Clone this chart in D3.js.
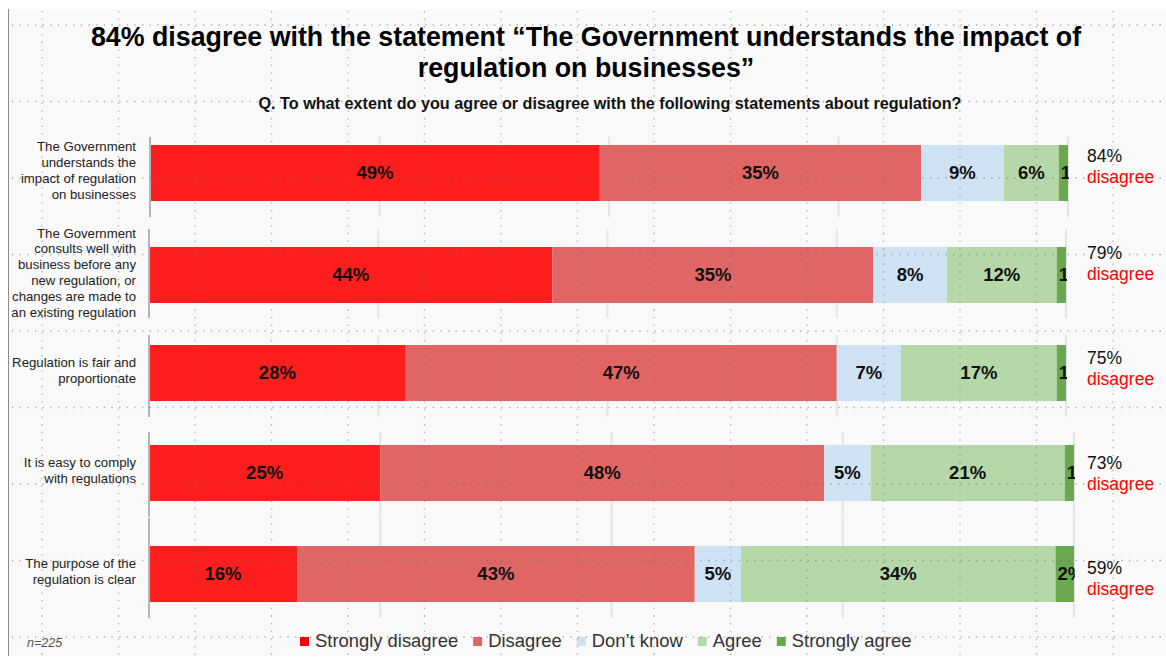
<!DOCTYPE html>
<html>
<head>
<meta charset="utf-8">
<script src="https://cdn.jsdelivr.net/npm/d3@7"></script>
<style>
  body { margin: 0; background: #fff; }
  svg { display: block; font-family: "Liberation Sans", Arial, sans-serif; }
</style>
</head>
<body>
<div id="chart"></div>
<script>

// Data
var categories = [
	["The Government", "understands the", "impact of regulation", "on businesses"],
	["The Government", "consults well with", "business before any", "new regulation, or", "changes are made to", "an existing regulation"],
	["Regulation is fair and", "proportionate"],
	["It is easy to comply", "with regulations"],
	["The purpose of the", "regulation is clear"]
];
var seriesNames = ["Strongly disagree", "Disagree", "Don\u2019t know", "Agree", "Strongly agree"];
var stronglyDisagree = [49, 44, 28, 25, 16];
var disagree = [35, 35, 47, 48, 43];
var dontKnow = [9, 8, 7, 5, 5];
var agree = [6, 12, 17, 21, 34];
var stronglyAgree = [1, 1, 1, 1, 2];
var totalDisagree = [84, 79, 75, 73, 59];
var gridTicks = [25, 50, 75, 100];

var colors = ["#fe1e1e", "#e06666", "#cfe2f3", "#b6d7a8", "#6aa84f"];
var legendColors = ["#ff0000", "#e06666", "#cfe2f3", "#b6d7a8", "#6aa84f"];

// Main svg window sizes
var width = 1166;
var height = 661;

// each row was its own little chart, so each has its own frame
var rowLayout = [
	{top: 137, bottom: 217, barTop: 145, left: 150, right: 1068, noteY: 162},
	{top: 229, bottom: 318, barTop: 247, left: 149, right: 1066, noteY: 259},
	{top: 335, bottom: 417, barTop: 345, left: 149, right: 1066, noteY: 364},
	{top: 432, bottom: 517, barTop: 445, left: 149, right: 1074, noteY: 469},
	{top: 518, bottom: 618, barTop: 546, left: 149, right: 1074, noteY: 574}
];
var barHeight = 56;

var table = categories.map(function(c, i) {
	return {
		"Strongly disagree": stronglyDisagree[i],
		"Disagree": disagree[i],
		"Don\u2019t know": dontKnow[i],
		"Agree": agree[i],
		"Strongly agree": stronglyAgree[i]
	};
});

var stack = d3.stack().keys(seriesNames);
var stacked = stack(table);

var svg = d3.select("#chart")
	.append("svg")
	.attr("width", width)
	.attr("height", height);

// Panel background
svg.append("rect")
	.attr("x", 8).attr("y", 9)
	.attr("width", width - 8).attr("height", 647)
	.attr("fill", "#f9f9f9");
svg.append("line")
	.attr("x1", 8.5).attr("x2", 8.5)
	.attr("y1", 9).attr("y2", 656)
	.attr("stroke", "#8a8a8a")
	.attr("stroke-width", 1);

// Titles
var title = svg.append("text")
	.attr("text-anchor", "middle")
	.style("font-weight", "bold")
	.style("font-size", "26.8px")
	.attr("fill", "#000");
title.append("tspan").attr("x", 586).attr("y", 46)
	.text("84% disagree with the statement \u201cThe Government understands the impact of");
title.append("tspan").attr("x", 586).attr("y", 77)
	.text("regulation on businesses\u201d");

svg.append("text")
	.attr("x", 610).attr("y", 109)
	.attr("text-anchor", "middle")
	.style("font-weight", "bold")
	.style("font-size", "16.2px")
	.attr("fill", "#111")
	.text("Q. To what extent do you agree or disagree with the following statements about regulation?");

var defs = svg.append("defs");

rowLayout.forEach(function(row, i) {

	var xScale = d3.scaleLinear()
		.domain([0, 100])
		.range([row.left, row.right]);

	var g = svg.append("g").attr("class", "row");

	// light gridlines of the row
	g.selectAll(".grid")
		.data(gridTicks)
		.enter()
		.append("line")
		.attr("x1", function(d) { return xScale(d); })
		.attr("x2", function(d) { return xScale(d); })
		.attr("y1", row.top).attr("y2", row.bottom)
		.attr("stroke", "#e4e4e4")
		.attr("stroke-width", 2);

	// bars
	g.selectAll(".seg")
		.data(stacked)
		.enter()
		.append("rect")
		.attr("x", function(s) { return xScale(s[i][0]); })
		.attr("y", row.barTop)
		.attr("width", function(s) { return xScale(s[i][1]) - xScale(s[i][0]); })
		.attr("height", barHeight)
		.attr("fill", function(s, k) { return colors[k]; });

	// axis line
	g.append("line")
		.attr("x1", row.left).attr("x2", row.left)
		.attr("y1", row.top).attr("y2", row.bottom)
		.attr("stroke", "#b4b4b4")
		.attr("stroke-width", 2);

	// clip for the labels that spill out of thin segments
	defs.append("clipPath")
		.attr("id", "clip" + i)
		.append("rect")
		.attr("x", row.left).attr("y", row.barTop)
		.attr("width", row.right - row.left + 1)
		.attr("height", barHeight);

	var labels = g.append("g").attr("clip-path", "url(#clip" + i + ")");
	labels.selectAll("text")
		.data(stacked)
		.enter()
		.append("text")
		.attr("y", row.barTop + barHeight / 2 + 6)
		.style("font-weight", "bold")
		.style("font-size", "18.5px")
		.attr("fill", "#111")
		.text(function(s) { return (s[i][1] - s[i][0]) + "%"; })
		.each(function(s) {
			var t = d3.select(this);
			var x0 = xScale(s[i][0]), x1 = xScale(s[i][1]);
			var w = this.getComputedTextLength();
			if (w + 4 > x1 - x0) {
				// thin segment: text starts at the segment and runs off the bar end
				var sx = x0 + 2;
				t.attr("x", sx).attr("text-anchor", "start");
				var txt = t.text();
				var n = txt.length;
				while (n > 1 && sx + this.getSubStringLength(0, n - 1) > row.right) n--;
				t.text(txt.slice(0, n));
			} else {
				t.attr("x", (x0 + x1) / 2).attr("text-anchor", "middle");
			}
		});

	// category label
	var lines = categories[i];
	var lineH = 15.8;
	var cy = row.barTop + barHeight / 2 - 3;
	var lab = g.append("text")
		.attr("text-anchor", "end")
		.style("font-size", "13.2px")
		.attr("fill", "#222");
	lab.selectAll("tspan")
		.data(lines)
		.enter()
		.append("tspan")
		.attr("x", 136)
		.attr("y", function(d, k) { return cy + (k - (lines.length - 1) / 2) * lineH + 5; })
		.text(function(d) { return d; });

	// total disagree note
	g.append("text")
		.attr("x", 1087).attr("y", row.noteY)
		.style("font-size", "17.5px")
		.attr("fill", "#111")
		.text(totalDisagree[i] + "%");
	g.append("text")
		.attr("x", 1087).attr("y", row.noteY + 20.5)
		.style("font-size", "17.5px")
		.attr("fill", "#ff0000")
		.text("disagree");
});

// Legend
var legend = svg.append("g").attr("class", "legend");
var lx = 300;
seriesNames.forEach(function(name, k) {
	legend.append("rect")
		.attr("x", lx).attr("y", 637)
		.attr("width", 9).attr("height", 9)
		.attr("fill", legendColors[k]);
	var t = legend.append("text")
		.attr("x", lx + 15).attr("y", 647)
		.style("font-size", "18.4px")
		.attr("fill", "#333")
		.text(name);
	lx += 15 + t.node().getComputedTextLength() + 15;
});

svg.append("text")
	.attr("x", 27).attr("y", 647)
	.style("font-size", "12.5px")
	.style("font-style", "italic")
	.attr("fill", "#555")
	.text("n=225");

// Dotted snap grid over everything
var step = 76.5;
var gx = d3.range(42, width, step);
var gy = d3.range(25, height, step);
var dots = svg.append("g").attr("class", "dotgrid")
	.attr("stroke", "rgba(110,110,110,0.55)")
	.attr("stroke-width", 1.3)
	.attr("stroke-dasharray", "1.3,6.35");
dots.selectAll(".vx")
	.data(gx)
	.enter()
	.append("line")
	.attr("x1", function(d) { return d; })
	.attr("x2", function(d) { return d; })
	.attr("y1", 11).attr("y2", height);
dots.selectAll(".hy")
	.data(gy)
	.enter()
	.append("line")
	.attr("x1", 12).attr("x2", width)
	.attr("y1", function(d) { return d; })
	.attr("y2", function(d) { return d; });

</script>
</body>
</html>
